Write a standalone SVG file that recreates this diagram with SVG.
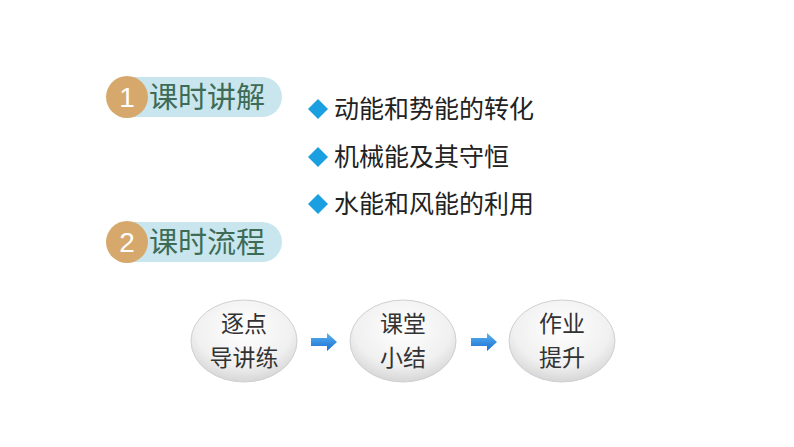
<svg xmlns="http://www.w3.org/2000/svg" width="794" height="447" viewBox="0 0 794 447">
<defs>
<radialGradient id="eg" cx="0.5" cy="0.35" r="0.65"><stop offset="0" stop-color="#ffffff"/><stop offset="0.7" stop-color="#f0f0f0"/><stop offset="1" stop-color="#d6d6d6"/></radialGradient>
<linearGradient id="ag" x1="0" y1="0" x2="0" y2="1"><stop offset="0" stop-color="#5ab4f0"/><stop offset="1" stop-color="#1a6ed0"/></linearGradient>
</defs>
<style>
.pill{fill:#c9e6ee}.num{fill:#d6a86c}.nt{font:28px "Liberation Sans",sans-serif;fill:#fff}
.ht{font:29px "Noto Sans CJK SC",sans-serif;fill:#3d6b56}
.it{font:25px "Noto Sans CJK SC",sans-serif;fill:#222}
.ell{fill:url(#eg);stroke:#d0d0d0;stroke-width:1}
.et{font:23px "Noto Sans CJK SC",sans-serif;fill:#333;text-anchor:middle}
.dm{fill:#1aa0e0}
</style>
<g id="h1"><rect class="pill" x="110" y="77" width="172" height="40" rx="20"/><circle class="num" cx="127" cy="97" r="21"/><text class="nt" x="127" y="107" text-anchor="middle">1</text><text class="ht" x="149" y="108">课时讲解</text></g>
<g id="h2"><rect class="pill" x="110" y="222" width="172" height="40" rx="20"/><circle class="num" cx="127" cy="242" r="21"/><text class="nt" x="127" y="252" text-anchor="middle">2</text><text class="ht" x="149" y="253">课时流程</text></g>
<g id="items">
<path class="dm" d="M318 99l10 10-10 10-10-10z"/><text class="it" x="334" y="118">动能和势能的转化</text>
<path class="dm" d="M318 147l10 10-10 10-10-10z"/><text class="it" x="334" y="166">机械能及其守恒</text>
<path class="dm" d="M318 194l10 10-10 10-10-10z"/><text class="it" x="334" y="213">水能和风能的利用</text>
</g>
<g id="n1"><ellipse class="ell" cx="244" cy="341" rx="53" ry="41"/><text class="et" x="244" y="332">逐点</text><text class="et" x="244" y="366">导讲练</text></g>
<g id="n2"><ellipse class="ell" cx="403" cy="341" rx="53" ry="41"/><text class="et" x="403" y="332">课堂</text><text class="et" x="403" y="366">小结</text></g>
<g id="n3"><ellipse class="ell" cx="562" cy="341" rx="53" ry="41"/><text class="et" x="562" y="332">作业</text><text class="et" x="562" y="366">提升</text></g>
<g id="connectors">
<path d="M311 338h16v-5l10 9-10 9v-5h-16z" fill="url(#ag)"/>
<path d="M471 338h16v-5l10 9-10 9v-5h-16z" fill="url(#ag)"/>
</g>
</svg>
